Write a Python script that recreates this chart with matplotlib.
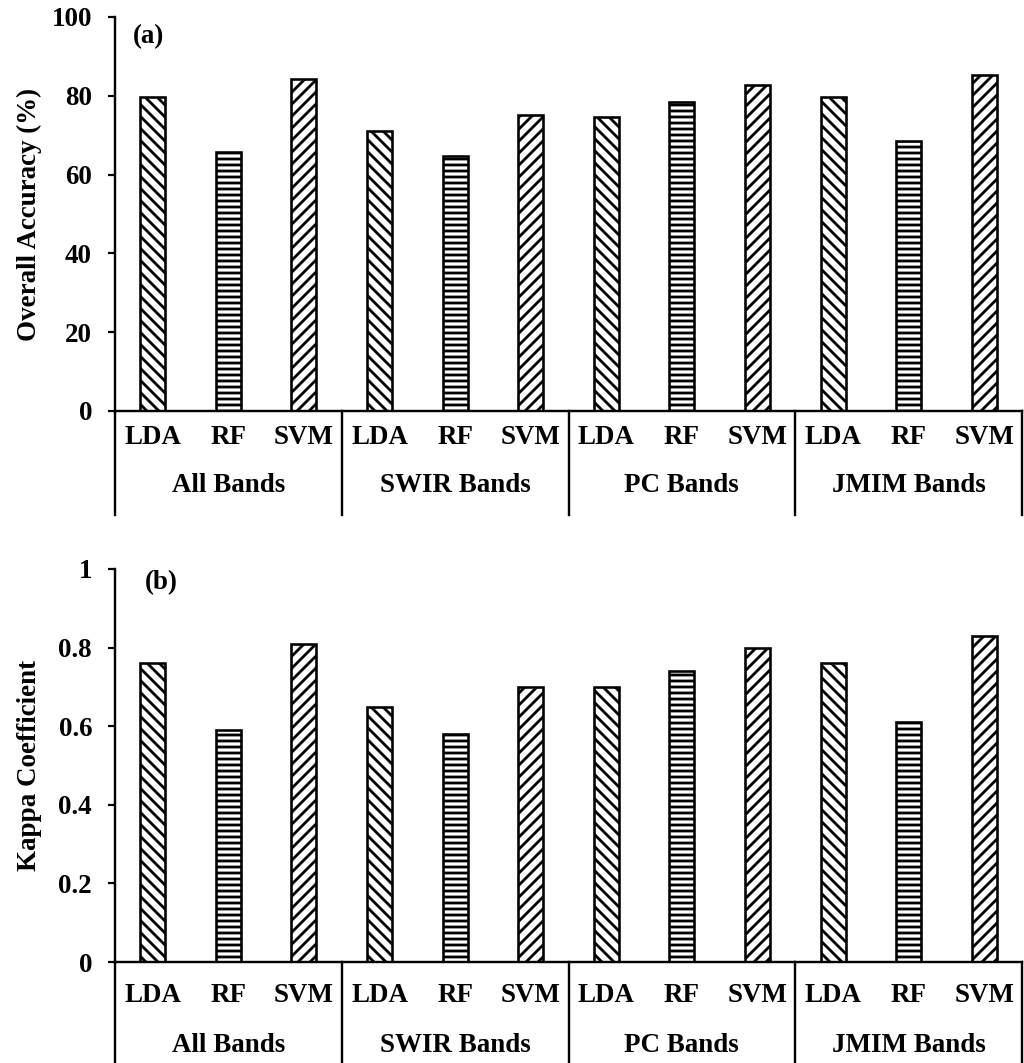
import matplotlib
matplotlib.use('Agg')
import matplotlib.pyplot as plt

plt.rcParams['font.family'] = ['Liberation Serif', 'DejaVu Serif']
plt.rcParams['font.weight'] = 'bold'
plt.rcParams['hatch.linewidth'] = 1.4

# data
groups = ['All Bands', 'SWIR Bands', 'PC Bands', 'JMIM Bands']
methods = ['LDA', 'RF', 'SVM']
accuracy = [79.6, 65.8, 84.3, 71.0, 64.6, 75.2, 74.5, 78.3, 82.7, 79.6, 68.6, 85.2]
kappa = [0.76, 0.59, 0.81, 0.65, 0.58, 0.70, 0.70, 0.74, 0.80, 0.76, 0.61, 0.83]
hatches = {'LDA': '\\\\\\\\', 'RF': '----', 'SVM': '////'}

DPI = 144
W, H = 1024, 1063
FS = 13.5


def panel(ax, vals, ymax, yticks, ticklabels, ylabel, tag, tag_xy,
          ax_h_px, cat_off, grp_off, sep_off, ylab_x):
    n = len(vals)
    xs = list(range(n))
    for i, v in enumerate(vals):
        m = methods[i % 3]
        ax.bar(xs[i], v, width=0.33, color='white', edgecolor='black',
               linewidth=1.3, hatch=hatches[m], zorder=2)
    ax.set_xlim(-0.5, n - 0.5)
    ax.set_ylim(0, ymax)
    ax.set_yticks(yticks)
    ax.set_yticklabels(ticklabels, fontsize=FS, fontweight='bold')
    ax.set_xticks([])
    ax.tick_params(axis='y', direction='out', length=3.5, width=1.1, pad=8)
    for s in ['top', 'right']:
        ax.spines[s].set_visible(False)
    for s in ['left', 'bottom']:
        ax.spines[s].set_linewidth(1.2)
    ax.set_ylabel(ylabel, fontsize=FS, fontweight='bold')
    ax.yaxis.set_label_coords(ylab_x, 0.5)
    ax.text(tag_xy[0], tag_xy[1], tag, transform=ax.transAxes,
            fontsize=FS, fontweight='bold', va='center', ha='left')

    tr = ax.get_xaxis_transform()
    for i in xs:
        ax.text(i, -cat_off / ax_h_px, methods[i % 3], transform=tr,
                ha='center', va='center', fontsize=FS, fontweight='bold')
    for g, name in enumerate(groups):
        ax.text(3 * g + 1, -grp_off / ax_h_px, name, transform=tr,
                ha='center', va='center', fontsize=FS, fontweight='bold')
    for b in [-0.5, 2.5, 5.5, 8.5, 11.5]:
        ax.plot([b, b], [0, -sep_off / ax_h_px], transform=tr, color='black',
                lw=1.2, clip_on=False)


fig = plt.figure(figsize=(W / DPI, H / DPI), dpi=DPI)

left = 115 / W
width = 907 / W

# top panel: y from 17 to 411 px
ax1 = fig.add_axes([left, 1 - 411 / H, width, 394 / H])
panel(ax1, accuracy, 100, [0, 20, 40, 60, 80, 100],
      ['0', '20', '40', '60', '80', '100'], 'Overall Accuracy (%)',
      '(a)', (0.02, 0.949), 394, 27, 75, 104, -0.080)

# bottom panel: y from 569 to 962 px
ax2 = fig.add_axes([left, 1 - 962 / H, width, 393 / H])
panel(ax2, kappa, 1, [0, 0.2, 0.4, 0.6, 0.8, 1],
      ['0', '0.2', '0.4', '0.6', '0.8', '1'], 'Kappa Coefficient',
      '(b)', (0.033, 0.965), 393, 34, 84, 110, -0.080)

fig.savefig('out.png', dpi=DPI)
